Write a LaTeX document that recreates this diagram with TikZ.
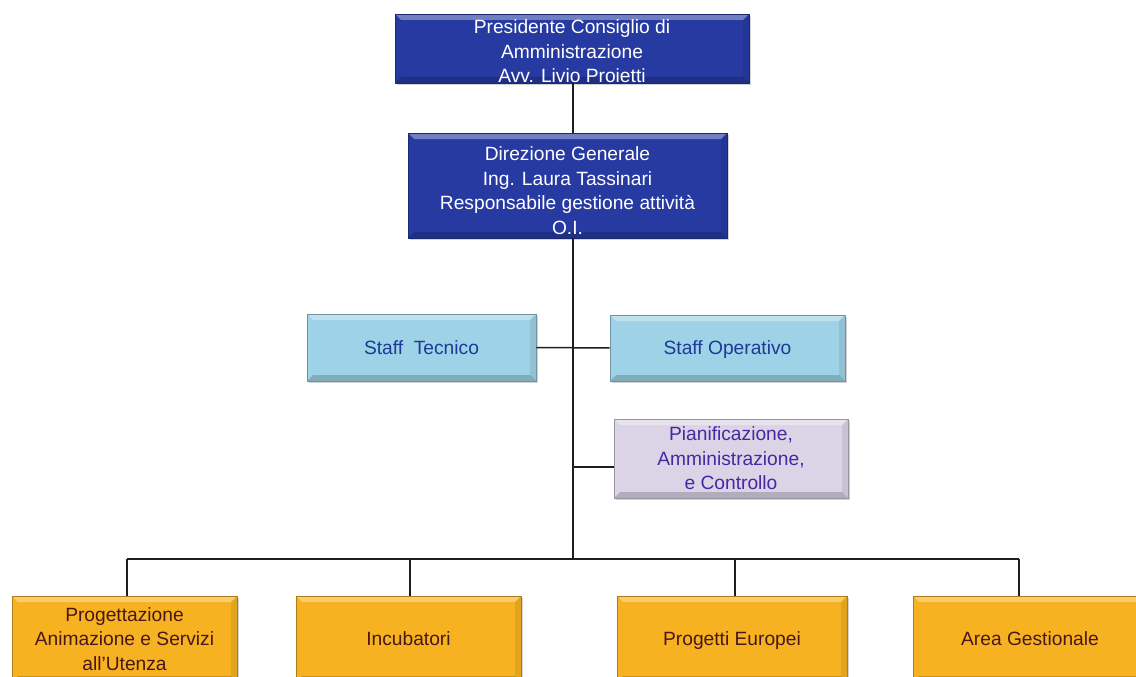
\documentclass[tikz,border=0pt]{standalone}
\usepackage{fontspec}
\setmainfont{Liberation Sans}
\usepackage{xcolor}
\usepackage{tikz}
\usetikzlibrary{shadows}

\definecolor{navyfill}{RGB}{38,58,162}
\definecolor{skyfill}{RGB}{158,210,230}
\definecolor{skytext}{RGB}{28,58,150}
\definecolor{lilacfill}{RGB}{218,212,230}
\definecolor{lilactext}{RGB}{72,40,160}
\definecolor{amberfill}{RGB}{246,178,32}
\definecolor{ambertext}{RGB}{72,24,24}
\definecolor{wire}{RGB}{30,30,34}

\begin{document}
\begin{tikzpicture}[
  x=1pt, y=-1pt,
  every node/.style={align=center},
  unit/.style={rectangle, inner sep=0pt, draw=#1!70!black, fill=#1, line width=0.6pt,
    font=\fontsize{19.2}{24.5}\selectfont,
    execute at begin node=\rule{0pt}{21pt}, execute at end node=\strut,
    drop shadow={shadow xshift=1.5pt, shadow yshift=-2pt, opacity=.35},
    path picture={
      % bevel: light rim on top, dark rim below
      \fill[white, opacity=.35] (path picture bounding box.north west) -- (path picture bounding box.north east)
        -- ([shift={(-6pt,-6pt)}]path picture bounding box.north east) -- ([shift={(6pt,-6pt)}]path picture bounding box.north west) -- cycle;
      \fill[black, opacity=.18] (path picture bounding box.south west) -- (path picture bounding box.south east)
        -- ([shift={(-6pt,6pt)}]path picture bounding box.south east) -- ([shift={(6pt,6pt)}]path picture bounding box.south west) -- cycle;
      \fill[black, opacity=.08] (path picture bounding box.north east) -- (path picture bounding box.south east)
        -- ([shift={(-6pt,6pt)}]path picture bounding box.south east) -- ([shift={(-6pt,-6pt)}]path picture bounding box.north east) -- cycle;
    }},
  stack/.style={text depth=0pt},
  board/.style={unit=navyfill, text=white, stack},
  staff/.style={unit=skyfill, text=skytext},
  admin/.style={unit=lilacfill, text=lilactext},
  area/.style={unit=amberfill, text=ambertext, minimum height=86pt},
  link/.style={draw=wire, line width=1.5pt},
]
\useasboundingbox (0,0) rectangle (1136,677);

% top of the chart
\node[board, minimum width=354pt, minimum height=69pt, text height=68pt] (pres) at (572,48.5)
  {Presidente Consiglio di\\ Amministrazione\\ Avv. Livio Proietti};
\node[board, minimum width=319pt, minimum height=105pt, text height=97pt] (dir) at (567.5,185.5)
  {Direzione Generale\\ Ing. Laura Tassinari\\ Responsabile gestione attività\\ O.I.};

% staff units
\node[staff, minimum width=229pt, minimum height=67pt] (tecnico) at (421.5,347.5) {Staff\ \ Tecnico};
\node[staff, minimum width=235pt, minimum height=66pt] (operativo) at (727.5,348) {Staff Operativo};
\node[admin, stack, minimum width=234pt, minimum height=79pt] (pianif) at (731,458.5)
  {Pianificazione,\\ Amministrazione,\\ e Controllo};

% operational areas
\node[area, stack, minimum width=225pt] (progett) at (124.5,639) {Progettazione\\ Animazione e Servizi\\ all'Utenza};
\node[area, minimum width=225pt] (incub) at (408.5,639) {Incubatori};
\node[area, minimum width=230pt] (europ) at (732,639) {Progetti Europei};
\node[area, minimum width=234pt] (gestion) at (1030,639) {Area Gestionale};

% connectors
\coordinate (spine) at (573,0);
\coordinate (pjoin) at (573,467);
\coordinate (busL) at (127,559);
\coordinate (busR) at (1019,559);
\coordinate (dropI) at (410,559);
\coordinate (dropE) at (735,559);
\draw[link] (pres.south -| spine) -- (dir.north -| spine);
\draw[link] (dir.south -| spine) -- (spine |- busL);
\draw[link] (tecnico.east) -- (operativo.west);
\draw[link] (pjoin) -- (pjoin -| pianif.west);
\draw[link] (busL) -- (busR);
\draw[link] (busL) -- (busL |- progett.north);
\draw[link] (dropI) -- (dropI |- incub.north);
\draw[link] (dropE) -- (dropE |- europ.north);
\draw[link] (busR) -- (busR |- gestion.north);

\end{tikzpicture}
\end{document}
